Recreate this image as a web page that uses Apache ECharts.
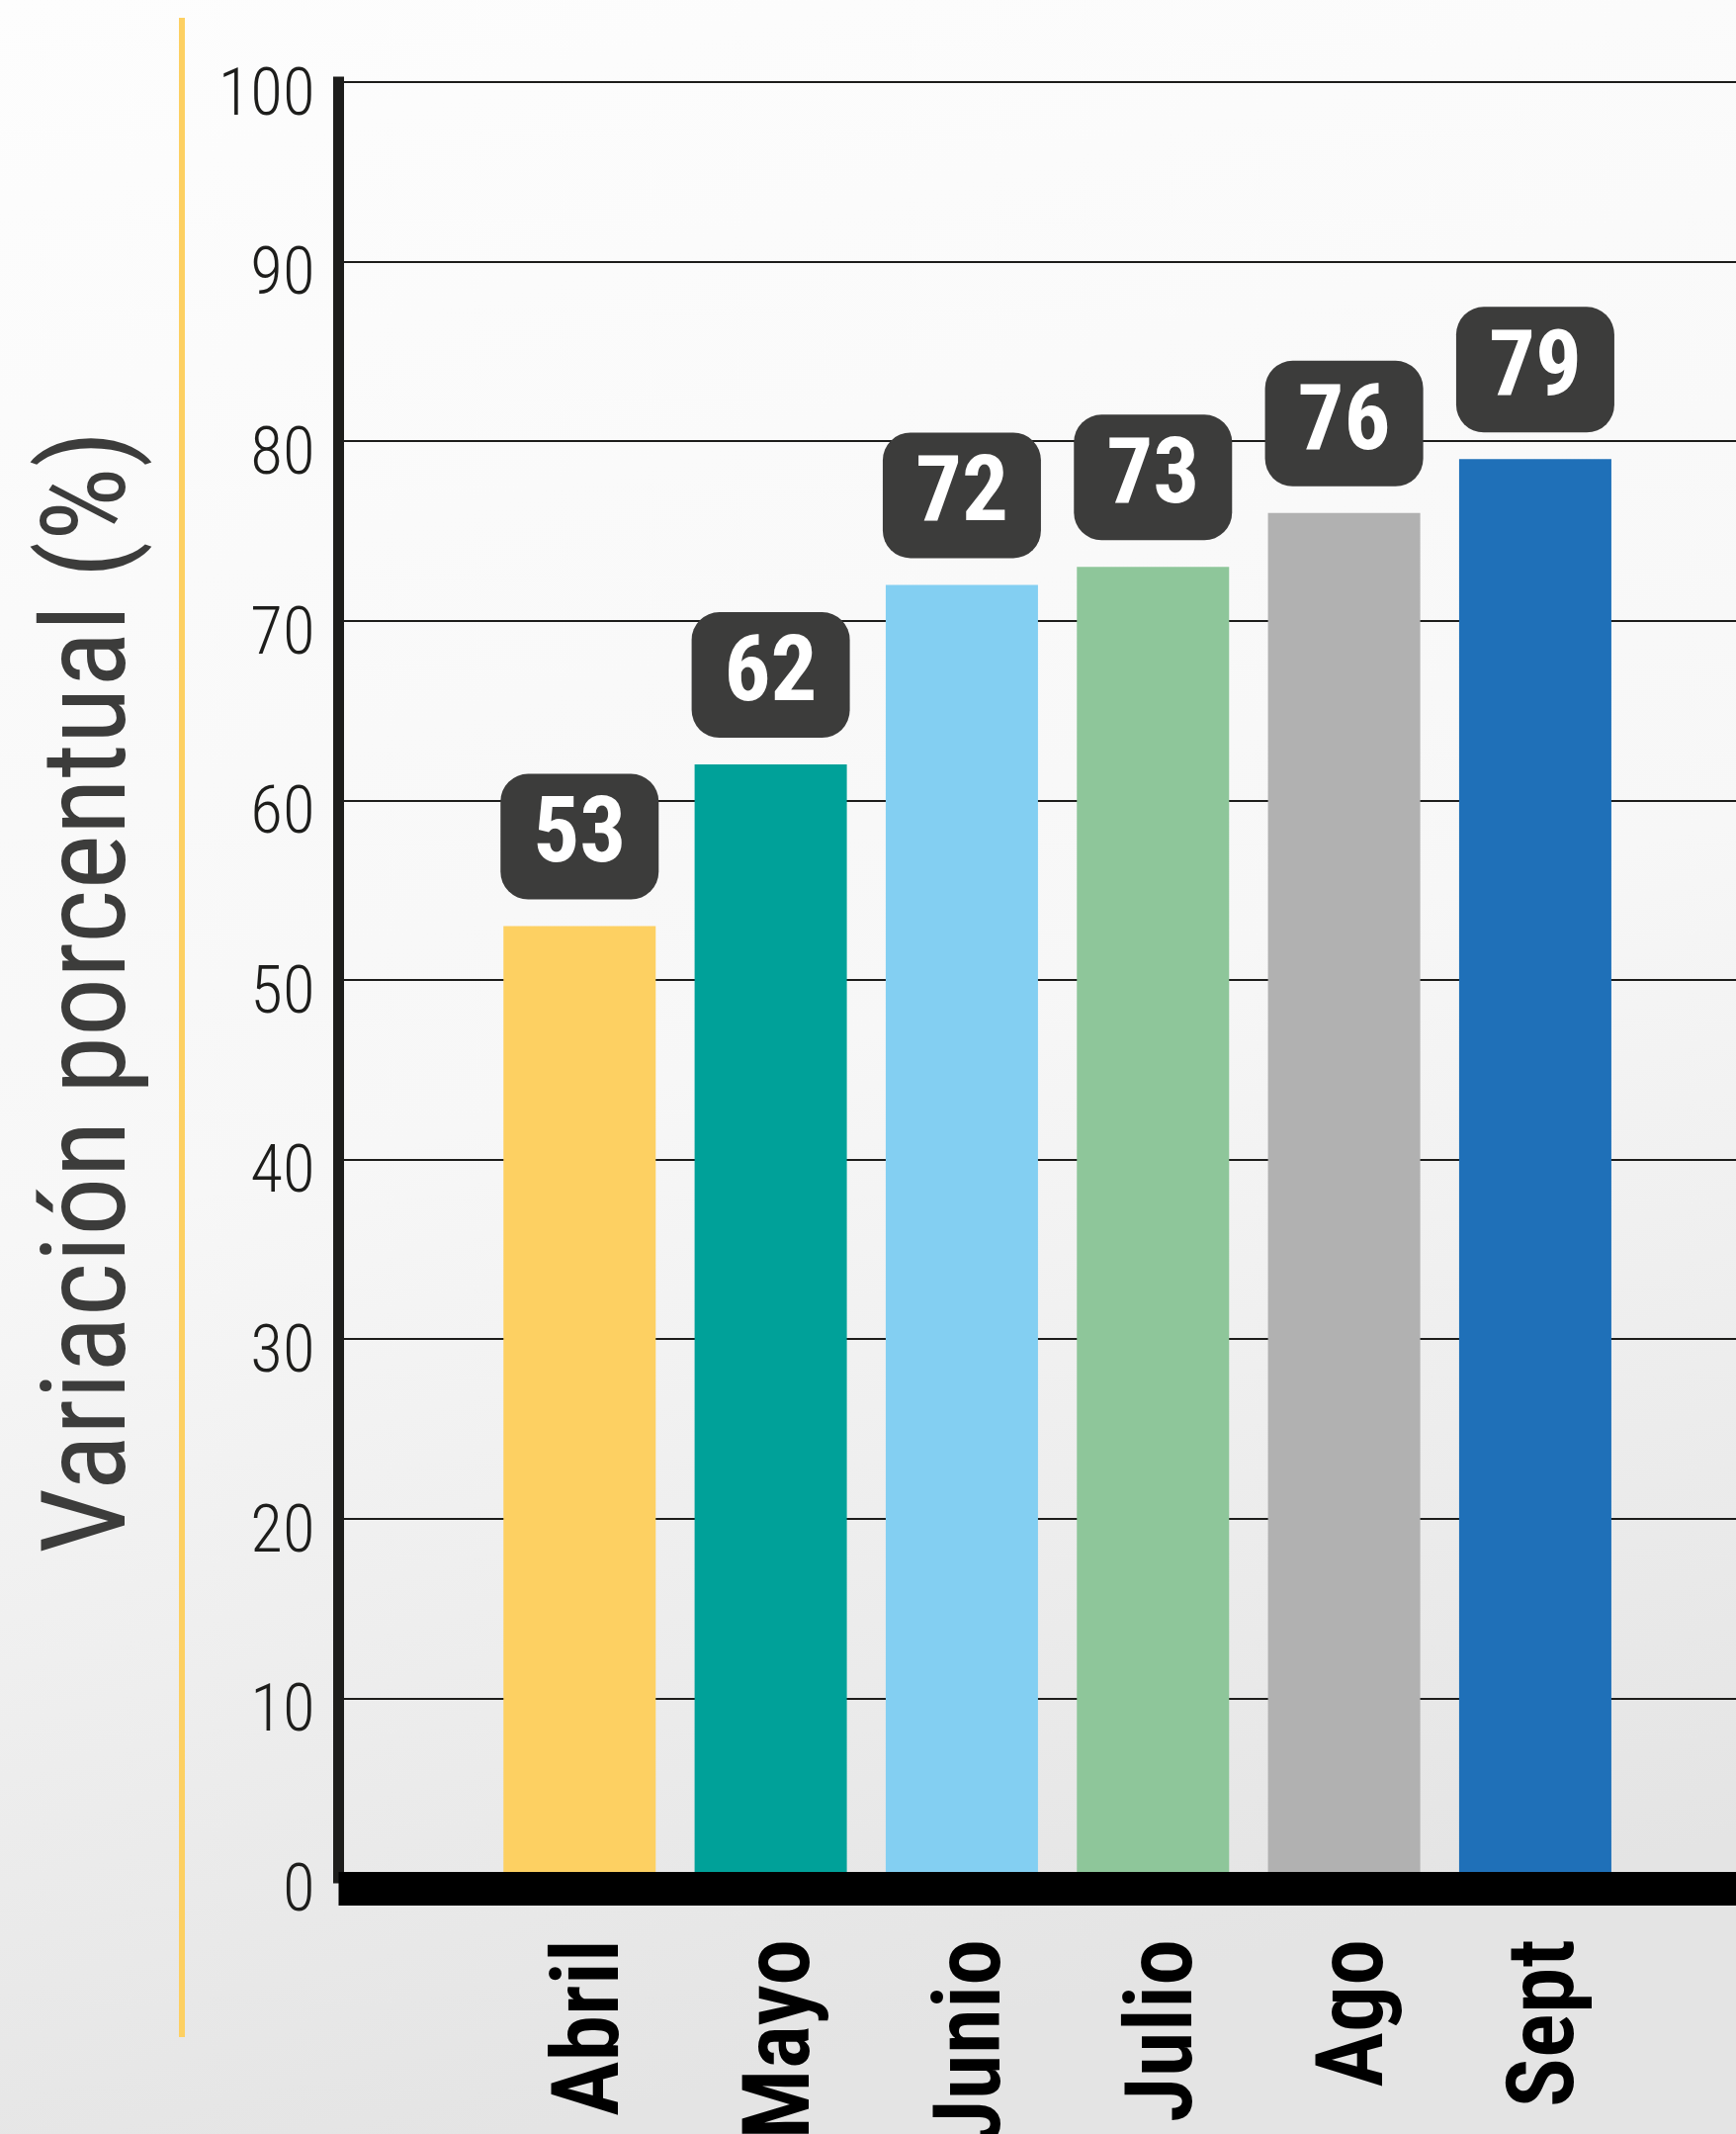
<!DOCTYPE html>
<html>
<head>
<meta charset="utf-8">
<script src="https://cdn.jsdelivr.net/npm/echarts@6/dist/echarts.min.js"></script>
<style>
    html, body { margin: 0; padding: 0; }
    #chart { width: 1756px; height: 2158px; }
</style>
</head>
<body>
<div id="chart"></div>
<script>
// datos
var meses = ['Abril', 'Mayo', 'Junio', 'Julio', 'Ago', 'Sept'];
var valores = [53, 62, 72, 73, 76, 79];
var colores = ['#fdd062', '#00a199', '#83cff2', '#8ec69a', '#b1b1b1', '#1f70b8'];
var tituloY = 'Variación porcentual (%)';

var FUENTE = '"Roboto Condensed", "Liberation Sans Narrow", "DejaVu Sans Condensed", Roboto, sans-serif';

var barData = [];
for (let i = 0; i < valores.length; i++) {
    barData.push({
        value: valores[i],
        itemStyle: { color: colores[i] }
    });
}

var chart = echarts.init(document.getElementById('chart'), null, {renderer: 'canvas'});
var option = {
    animation: false,
    backgroundColor: {
        type: 'linear', x: 0, y: 0, x2: 0.3, y2: 1,
        colorStops: [
            {offset: 0, color: '#fdfdfd'},
            {offset: 0.55, color: '#f7f7f7'},
            {offset: 1, color: '#e4e4e4'}
        ]
    },
    grid: [
        // ejes y lineas de fondo
        {left: 342.5, right: 0, top: 83, bottom: 259, outerBoundsMode: 'none'},
        // barras
        {left: 489.6, right: 106.4, top: 83, bottom: 259, outerBoundsMode: 'none'}
    ],
    xAxis: [
        {
            gridIndex: 0,
            type: 'value',
            min: 0,
            max: 1,
            offset: 11,
            z: 5,
            axisLine: {show: true, onZero: false, lineStyle: {color: '#000', width: 34, cap: 'butt'}},
            axisTick: {show: false},
            axisLabel: {show: false},
            splitLine: {show: false}
        },
        {
            gridIndex: 1,
            type: 'category',
            data: meses,
            axisLine: {show: false},
            axisTick: {show: false},
            axisLabel: {
                rotate: 90,
                margin: 62,
                fontSize: 94,
                fontWeight: 600,
                fontFamily: FUENTE,
                color: '#000',
                verticalAlign: 'top',
                lineHeight: 30
            }
        }
    ],
    yAxis: [
        {
            gridIndex: 0,
            type: 'value',
            min: 0,
            max: 100,
            interval: 10,
            axisLine: {show: true, lineStyle: {color: '#1d1d1b', width: 11, cap: 'square'}},
            axisTick: {show: false},
            axisLabel: {
                margin: 24,
                fontSize: 67,
                fontWeight: 300,
                fontFamily: FUENTE,
                color: '#1d1d1b',
                verticalAlign: 'top',
                lineHeight: 32
            },
            splitLine: {show: true, lineStyle: {color: '#1d1d1b', width: 2}}
        },
        {
            gridIndex: 1,
            type: 'value',
            min: 0,
            max: 100,
            show: false
        }
    ],
    graphic: [
        {
            type: 'line',
            shape: {x1: 184, y1: 18, x2: 184, y2: 2060},
            style: {stroke: '#fdd062', lineWidth: 6}
        },
        {
            type: 'text',
            x: 96,
            y: 1003,
            rotation: Math.PI / 2,
            style: {
                text: tituloY,
                fontSize: 118,
                fontFamily: FUENTE,
                fill: '#3c3c3b',
                textAlign: 'center',
                textVerticalAlign: 'middle'
            }
        }
    ],
    series: [
        {
            type: 'bar',
            xAxisIndex: 1,
            yAxisIndex: 1,
            data: barData,
            barWidth: 154,
            label: {
                show: true,
                position: 'top',
                distance: 27,
                color: '#fff',
                fontSize: 93,
                fontWeight: 'bold',
                fontFamily: FUENTE,
                lineHeight: 93,
                backgroundColor: '#3c3c3b',
                borderRadius: 28,
                padding: [19, 33, 15, 33]
            }
        }
    ]
};
chart.setOption(option);
</script>
</body>
</html>
